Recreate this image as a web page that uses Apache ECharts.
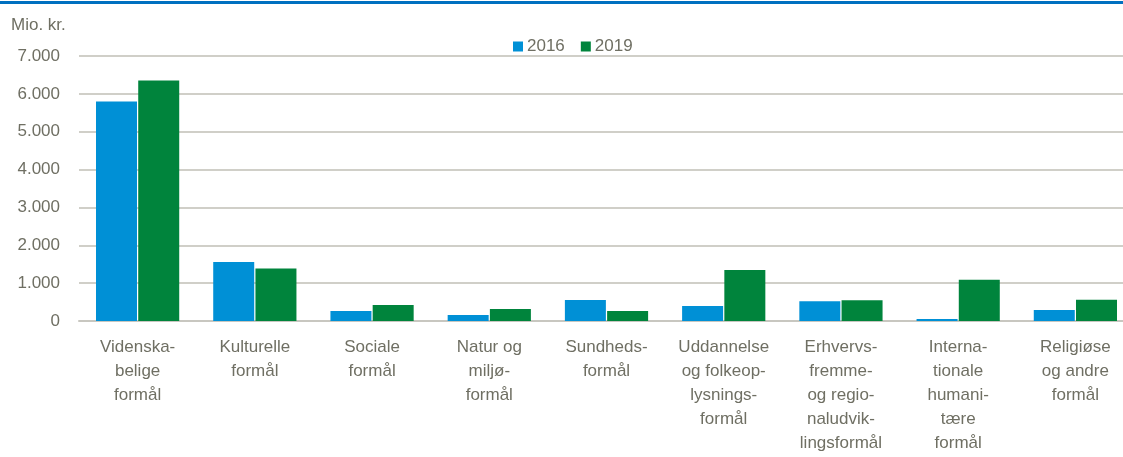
<!DOCTYPE html>
<html><head><meta charset="utf-8">
<script src="https://cdn.jsdelivr.net/npm/echarts@6/dist/echarts.min.js"></script>
<style>html,body{margin:0;padding:0;background:#fff}#c{width:1123px;height:457px}</style>
</head><body><div id="c"></div>
<script>
const categories = ['Videnska-\nbelige\nformål','Kulturelle\nformål','Sociale\nformål','Natur og\nmiljø-\nformål','Sundheds-\nformål','Uddannelse\nog folkeop-\nlysnings-\nformål','Erhvervs-\nfremme-\nog regio-\nnaludvik-\nlingsformål','Interna-\ntionale\nhumani-\ntære\nformål','Religiøse\nog andre\nformål'];
const seriesNames = ['2016','2019'];
const values2016 = [5800,1560,265,160,555,395,525,55,290];
const values2019 = [6350,1390,420,315,265,1345,545,1090,560];
const yTicks = [0,1000,2000,3000,4000,5000,6000,7000];
const textColor = '#6f6f63';
const font = '"Liberation Sans", Arial, sans-serif';
const chart = echarts.init(document.getElementById('c'));
chart.setOption({
  animation:false,
  textStyle:{fontFamily:font},
  graphic:[
    {type:'rect',shape:{x:0,y:1,width:1123,height:3},style:{fill:'#0070c0'}},
    {type:'text',left:11,top:17,style:{text:'Mio. kr.',fill:textColor,font:'17px '+font}}
  ],
  legend:{top:33,left:508,itemWidth:10,itemHeight:10,itemGap:16,icon:'rect',
    textStyle:{color:textColor,fontSize:17,fontFamily:font,padding:[0,0,0,-1]},data:seriesNames},
  grid:{left:79,right:-11,top:56,bottom:136,containLabel:false,outerBoundsMode:'none'},
  xAxis:{type:'category',data:categories,
    axisLine:{lineStyle:{color:'#c8c7c0',width:2}},axisTick:{show:false},
    axisLabel:{color:textColor,fontSize:17,fontFamily:font,lineHeight:24,margin:14,interval:0}},
  yAxis:{type:'value',min:yTicks[0],max:yTicks[yTicks.length-1],interval:1000,
    axisLine:{show:false},axisTick:{show:false},
    splitLine:{lineStyle:{color:'#d0cfc8',width:2}},
    axisLabel:{color:textColor,fontSize:17,fontFamily:font,margin:19,
      formatter:v=>v.toString().replace(/\B(?=(\d{3})+(?!\d))/g,'.')}},
  series:[
    {name:seriesNames[0],type:'bar',data:values2016,itemStyle:{color:'#0090d6'},barWidth:41,barGap:'3%'},
    {name:seriesNames[1],type:'bar',data:values2019,itemStyle:{color:'#00843c'},barWidth:41}
  ]
});
</script></body></html>
